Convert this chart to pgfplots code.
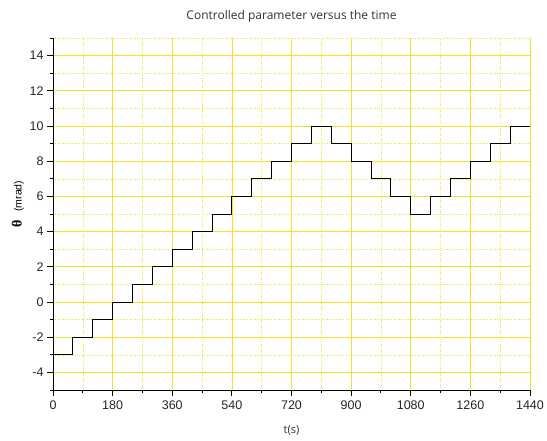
\documentclass[border=0pt]{standalone}
\usepackage{pgfplots}
\pgfplotsset{compat=1.18}
\usepackage{fontspec}
\setmainfont{Liberation Sans}
\newfontfamily\thetafont{Liberation Serif}
\newfontfamily\labfont{Open Sans}
\definecolor{gridy}{RGB}{238,228,40}
\begin{document}
\begin{tikzpicture}
\begin{axis}[
  scale only axis,
  width=477pt, height=352pt,
  xmin=0, xmax=1440, ymin=-5, ymax=15,
  axis x line=bottom, axis y line=left,
  axis line style={-, black, line width=0.9pt},
  xtick={0,180,...,1440},
  ytick={-4,-2,...,14},
  minor xtick={90,270,...,1350},
  minor ytick={-5,-3,...,15},
  tick align=outside,
  major tick length=6pt, minor tick length=3pt,
  tick style={black, line width=0.9pt},
  grid=both,
  major grid style={gridy, line width=0.7pt},
  minor grid style={gridy, dotted, line width=0.6pt},
  /pgf/number format/assume math mode=true,
  /pgf/number format/1000 sep={},
  ticklabel style={font=\fontsize{12.5}{14}\selectfont, text=black!85},
  xticklabel style={yshift=-1pt},
  title={Controlled parameter versus the time},
  title style={font=\labfont\fontsize{12}{14}\selectfont, text=black!80, yshift=6pt},
  xlabel={t(s)},
  xlabel style={font=\labfont\fontsize{11}{13}\selectfont, text=black!80, yshift=-9pt},
  ylabel={{\thetafont\bfseries\fontsize{14}{14}\selectfont θ}\ \ \ {\fontsize{10.5}{12}\selectfont (mrad)}},
  ylabel style={yshift=-1pt, xshift=10pt},
]
\addplot[const plot, black, line width=0.8pt] coordinates {
(0,-3) (60,-2) (120,-1) (180,0) (240,1) (300,2) (360,3) (420,4) (480,5)
(540,6) (600,7) (660,8) (720,9) (780,10) (840,9) (900,8) (960,7) (1020,6)
(1080,5) (1140,6) (1200,7) (1260,8) (1320,9) (1380,10) (1440,10)
};
\end{axis}
\pgfresetboundingbox
\path (current axis.south west) ++(-53pt,-50pt) rectangle ++(547pt,440pt);
\end{tikzpicture}
\end{document}
